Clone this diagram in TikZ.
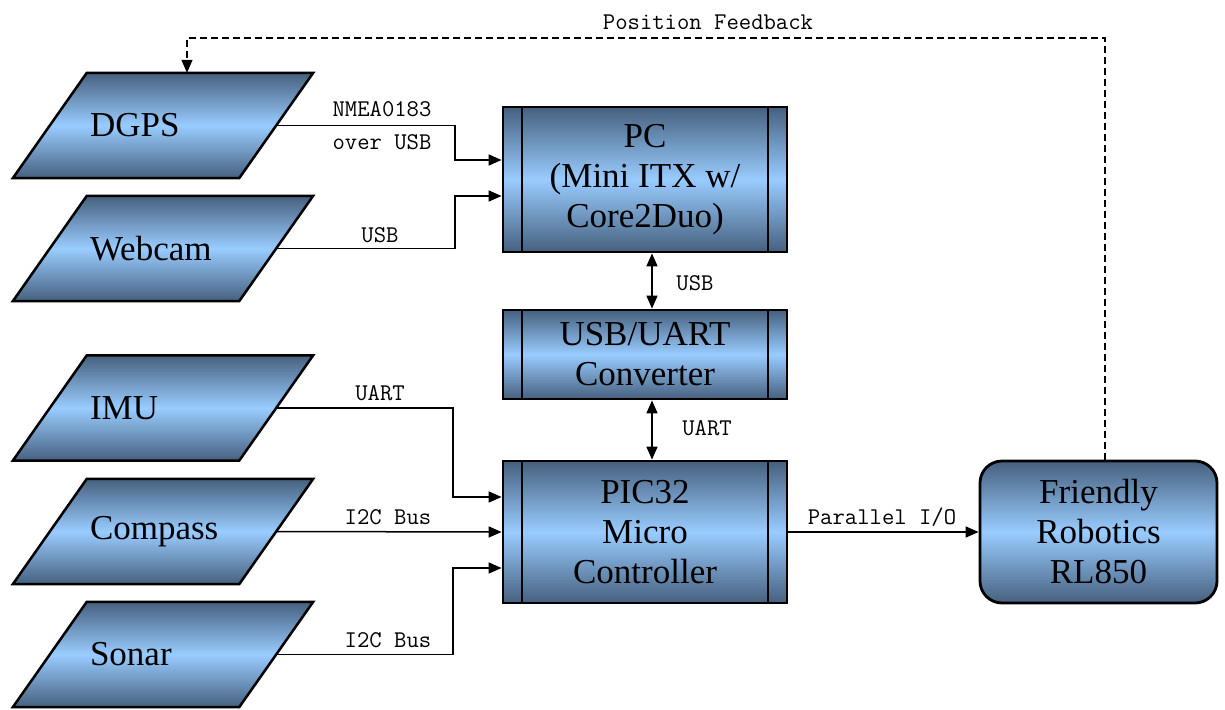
\documentclass[tikz,border=0pt]{standalone}
\usepackage{fontspec}
\setmainfont{Liberation Serif}
\usetikzlibrary{arrows.meta,backgrounds,calc}
\definecolor{boxdark}{HTML}{46607E}
\definecolor{boxlight}{HTML}{99CCFF}
\tikzset{
  shade3/.style={top color=boxdark, bottom color=boxdark, middle color=boxlight},
  blocktext/.style={font=\fontsize{35}{40}\selectfont, inner sep=0pt},
  % sensor: an invisible rectangle whose east anchor sits on the slanted edge
  sensor/.style={blocktext, minimum height=105pt, text width=146pt, align=left,
    inner xsep=40pt, inner ysep=0pt},
  procbox/.style={blocktext, align=center, draw, line width=2.8pt, shade3,
    minimum width=284pt,
    path picture={
      \draw[line width=2.2pt]
        ([xshift=19pt]path picture bounding box.north west) --
        ([xshift=19pt]path picture bounding box.south west)
        ([xshift=-19pt]path picture bounding box.north east) --
        ([xshift=-19pt]path picture bounding box.south east);}},
  robotbox/.style={blocktext, align=center, draw, line width=2.8pt, shade3,
    rounded corners=22pt, minimum width=237pt, minimum height=142pt},
  conn/.style={line width=1.5pt, -{Triangle[length=13pt,width=11pt]}},
  bidir/.style={line width=1.5pt, {Triangle[length=13pt,width=11pt]}-{Triangle[length=13pt,width=11pt]}},
  feedback/.style={line width=1.4pt, dash pattern=on 7pt off 4pt,
    -{Triangle[length=13pt,width=11pt]}},
  lbl/.style={font=\ttfamily\fontsize{24}{33}\selectfont, inner sep=0pt, align=center}
}
\begin{document}
\begin{tikzpicture}[x=1pt,y=-1pt]
\useasboundingbox (0,0) rectangle (1225,709);

% sensors
\node[sensor] (dgps)    at (163,125.5) {DGPS};
\node[sensor] (webcam)  at (163,248.5) {Webcam};
\node[sensor] (imu)     at (163,408)   {IMU};
\node[sensor] (compass) at (163,531.5) {Compass};
\node[sensor] (sonar)   at (163,654.5) {Sonar};

\begin{scope}[on background layer]
  \foreach \s in {dgps,webcam,imu,compass,sonar}{
    \draw[line width=2.5pt, shade3]
      ($(\s.north west)+(37,0)$) -- ($(\s.north east)+(37,0)$) --
      ($(\s.south east)+(-37,0)$) -- ($(\s.south west)+(-37,0)$) -- cycle;
  }
\end{scope}

% processing blocks
\node[procbox, minimum height=145pt] (pc)   at (645,179.5) {PC\\(Mini ITX w/\\Core2Duo)};
\node[procbox, minimum height=89pt]  (conv) at (645,354.5) {USB/UART\\Converter};
\node[procbox, minimum height=142pt] (pic)  at (645,532)   {PIC32\\Micro\\Controller};
\node[robotbox] (robot) at (1098.5,532) {Friendly\\Robotics\\RL850};

% sensor links
\draw[conn] (dgps.east) -| (455,160) -- ($(pc.west)+(0,-19.5)$);
\draw[conn] (webcam.east) -| (455,196) -- ($(pc.west)+(0,16.5)$);
\draw[conn] (imu.east) -| (453,497) -- ($(pic.west)+(0,-35)$);
\draw[conn] (compass.east) -- (pic.west);
\draw[conn] (sonar.east) -| (453,568) -- ($(pic.west)+(0,36)$);

% internal links
\draw[bidir] ($(pc.south)+(7,0)$) -- ($(conv.north)+(7,0)$);
\draw[bidir] ($(conv.south)+(7,0)$) -- ($(pic.north)+(7,0)$);
\draw[conn] (pic.east) -- (robot.west);

% feedback loop
\draw[feedback] ($(robot.north)+(6.5,0)$) |- (187,38) -- ($(dgps.north)+(24,0)$);

% link labels
\node[lbl] (l-nmea)   at (382,126) {NMEA0183\\over USB};
\node[lbl] (l-usbcam) at (380,235) {USB};
\node[lbl] (l-usbpc)  at (695,283) {USB};
\node[lbl] (l-uartc)  at (707,428) {UART};
\node[lbl] (l-uartimu) at (380,393) {UART};
\node[lbl] (l-i2cc)   at (388,517) {I2C Bus};
\node[lbl] (l-i2cs)   at (388,640) {I2C Bus};
\node[lbl] (l-par)    at (882,517) {Parallel I/O};
\node[lbl] (l-fb)     at (708,22)  {Position Feedback};
\end{tikzpicture}
\end{document}
